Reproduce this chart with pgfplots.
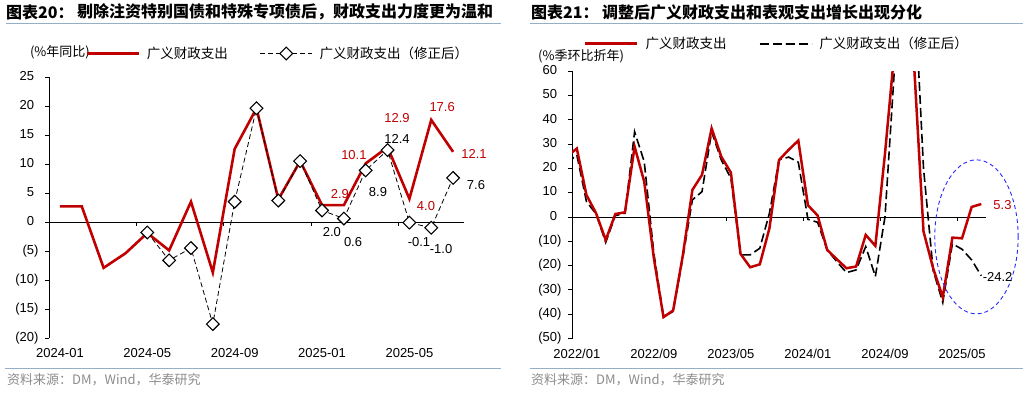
\documentclass[border=0pt]{standalone}
\usepackage{pgfplots}
\pgfplotsset{compat=1.18}
\usepackage{fontspec}
\setmainfont{Liberation Sans}
\newfontfamily\cjk{Noto Sans CJK SC}
\definecolor{myred}{RGB}{192,0,0}
\definecolor{rulec}{RGB}{150,175,200}
\definecolor{srcc}{RGB}{140,140,140}
\definecolor{ellc}{RGB}{40,40,255}

\pgfplotstableread{
i red
0 2.7
1 2.7
2 -7.9
3 -5.4
4 -1.9
5 -4.9
6 3.5
7 -8.7
8 12.6
9 19.6
10 3.9
11 10.5
12 2.9
13 2.9
14 10.1
15 12.9
16 4.0
17 17.6
18 12.1
}\lefred
\pgfplotstableread{
i adj
4 -1.8
5 -6.6
6 -4.5
7 -17.6
8 3.5
9 19.6
10 3.7
11 10.5
12 2.0
13 0.6
14 8.9
15 12.4
16 -0.1
17 -1.0
18 7.6
}\lefadj
\pgfplotstableread{
i red adj
-1 25.0 22.0
0 28.1 25.5
1 9.0 6.3
2 1.5 1.2
3 -9.5 -10.5
4 1.2 0.5
5 1.9 1.5
6 28.9 35.0
7 14.5 22.7
8 -17.0 -15.0
9 -41.2 -41.0
10 -38.5 -38.9
11 -16.0 -17.0
12 11.1 7.0
13 17.3 10.4
14 36.4 35.0
15 24.8 23.4
16 18.2 15.9
17 -15.2 -15.6
18 -20.7 -15.6
19 -19.5 -12.9
20 -4.7 1.5
21 23.4 23.5
22 27.6 24.6
23 31.4 22.5
24 4.8 -1.0
25 0.6 -2.2
26 -13.6 -13.6
27 -17.4 -18.4
28 -21.1 -22.9
29 -20.4 -21.8
30 -7.4 -12.2
31 -11.9 -24.5
32 26.0 0.0
33 69.0 62.0
34 120.0 130.0
35 64.0 100.0
36 -6.0 20.0
37 -21.1 -22.0
38 -33.0 -35.2
39 -8.5 -11.0
40 -8.8 -13.3
41 4.1 -17.7
42 5.3 -24.2
}\rightdata

\pgfplotsset{
  myaxis/.style={
    scale only axis, anchor=south west,
    axis x line*=bottom, axis y line*=left,
    x axis line style={draw=none},
    y axis line style={-, line width=0.8pt},
    xtick style={draw=none},
    ytick style={black, line width=0.8pt},
    tick align=outside, major tick length=4pt,
    every tick label/.append style={font=\fontsize{13}{15}\selectfont, text=black},
    xticklabel style={yshift=-3pt},
    yticklabel style={xshift=-3pt},
    /pgf/number format/assume math mode=true,
    clip mode=individual,
    legend style={draw=none, fill=none, font=\cjk\fontsize{13.5}{15}\selectfont, anchor=west, legend columns=2,
      inner sep=0pt,
      /tikz/every odd column/.append style={column sep=5pt},
      /tikz/every even column/.append style={column sep=30pt}},
    legend image code/.code={\draw[mark repeat=2,mark phase=2,##1] plot coordinates {(0pt,0pt) (26pt,0pt) (52pt,0pt)};},
  }
}

\begin{document}
\begin{tikzpicture}[x=1pt,y=1pt]
\useasboundingbox (0,0) rectangle (1030,392);
% titles
\node[anchor=west, inner sep=0pt, font=\cjk\bfseries\fontsize{16}{16}\selectfont] at (6,380) {图表20：};
\node[anchor=west, inner sep=0pt, font=\cjk\bfseries\fontsize{16}{16}\selectfont] at (77,380) {剔除注资特别国债和特殊专项债后，财政支出力度更为温和};
\node[anchor=west, inner sep=0pt, font=\cjk\bfseries\fontsize{16}{16}\selectfont] at (531,380) {图表21：};
\node[anchor=west, inner sep=0pt, font=\cjk\bfseries\fontsize{16}{16}\selectfont] at (602,380) {调整后广义财政支出和表观支出增长出现分化};
\draw[rulec, line width=1pt] (6,368) -- (501,368);
\draw[rulec, line width=1pt] (530,368) -- (1023,368);
\draw[rulec, line width=1pt] (5,24) -- (501,24);
\draw[rulec, line width=1pt] (530,24) -- (1023,24);
\node[anchor=west, inner sep=0pt, text=srcc, font=\cjk\fontsize{13}{13}\selectfont] at (7,12) {资料来源：DM，Wind，华泰研究};
\node[anchor=west, inner sep=0pt, text=srcc, font=\cjk\fontsize{13}{13}\selectfont] at (531,12) {资料来源：DM，Wind，华泰研究};
\node[anchor=east, inner sep=0pt, font=\cjk\fontsize{13}{13}\selectfont] at (90,340) {(\%年同比)};
\node[anchor=west, inner sep=0pt, font=\cjk\fontsize{13}{13}\selectfont] at (538,336) {(\%季环比折年)};

% ---------- left chart ----------
\begin{axis}[myaxis,
  at={(49pt,54pt)}, width=415pt, height=261pt,
  xmin=-0.5, xmax=18.5, ymin=-20, ymax=25,
  xtick={0,4,8,12,16}, xticklabels={2024-01,2024-05,2024-09,2025-01,2025-05},
  ytick={-20,-15,-10,-5,0,5,10,15,20,25},
  yticklabels={(20),(15),(10),(5),0\phantom{)},5\phantom{)},10\phantom{)},15\phantom{)},20\phantom{)},25\phantom{)}},
  legend style={at={(axis description cs:0.087,1.09)}},
]
\draw[line width=0.8pt] (axis cs:-0.5,0) -- (axis cs:18.5,0);
\draw[line width=0.8pt] (axis cs:3.5,0) -- ++(0pt,-4pt);
\draw[line width=0.8pt] (axis cs:7.5,0) -- ++(0pt,-4pt);
\draw[line width=0.8pt] (axis cs:11.5,0) -- ++(0pt,-4pt);
\draw[line width=0.8pt] (axis cs:15.5,0) -- ++(0pt,-4pt);
\addplot[myred, line width=2.6pt, no marks] table[x=i, y=red] {\lefred};
\addlegendentry{广义财政支出}
\addplot[black, line width=0.8pt, dash pattern=on 5pt off 3pt, mark=square*, mark size=4.5pt,
  mark options={solid, rotate=45, fill=white, draw=black, line width=1.1pt}] table[x=i, y=adj] {\lefadj};
\addlegendentry{广义财政支出（修正后）}
\begin{scope}[font=\fontsize{13}{15}\selectfont, inner sep=0pt]
\node[text=myred] at (axis cs:15.43,17.9) {12.9};
\node[text=myred] at (axis cs:17.5,19.8) {17.6};
\node[text=myred] at (axis cs:18.96,11.7) {12.1};
\node[text=myred] at (axis cs:13.46,11.55) {10.1};
\node[text=myred] at (axis cs:12.82,4.83) {2.9};
\node[text=myred] at (axis cs:16.76,2.76) {4.0};
\node at (axis cs:15.43,14.3) {12.4};
\node at (axis cs:14.56,5.17) {8.9};
\node at (axis cs:19.05,6.38) {7.6};
\node at (axis cs:12.45,-1.72) {2.0};
\node at (axis cs:13.42,-3.45) {0.6};
\node at (axis cs:16.44,-3.45) {-0.1};
\node at (axis cs:17.45,-4.66) {-1.0};
\end{scope}
\end{axis}

% ---------- right chart ----------
\begin{axis}[myaxis,
  at={(572pt,53.5pt)}, width=414.1pt, height=267.5pt,
  xmin=-0.5, xmax=42.5, ymin=-50, ymax=60,
  xtick={0,8,16,24,32,40}, xticklabels={2022/01,2022/09,2023/05,2024/01,2024/09,2025/05},
  ytick={-50,-40,-30,-20,-10,0,10,20,30,40,50,60},
  yticklabels={(50),(40),(30),(20),(10),0\phantom{)},10\phantom{)},20\phantom{)},30\phantom{)},40\phantom{)},50\phantom{)},60\phantom{)}},
  legend style={at={(axis description cs:0.029,1.102)}},
]
\draw[line width=0.8pt] (axis cs:-0.5,0) -- (axis cs:42.5,0);
\draw[line width=0.8pt] (axis cs:7.5,0) -- ++(0pt,-4pt);
\draw[line width=0.8pt] (axis cs:15.5,0) -- ++(0pt,-4pt);
\draw[line width=0.8pt] (axis cs:23.5,0) -- ++(0pt,-4pt);
\draw[line width=0.8pt] (axis cs:31.5,0) -- ++(0pt,-4pt);
\draw[line width=0.8pt] (axis cs:39.5,0) -- ++(0pt,-4pt);
\addplot[black, line width=1.6pt, dash pattern=on 9pt off 4pt, no marks, forget plot] table[x=i, y=adj] {\rightdata};
\addplot[myred, line width=2.5pt, no marks] table[x=i, y=red] {\rightdata};
\addlegendentry{广义财政支出}
\addlegendimage{black, line width=1.6pt, dash pattern=on 9pt off 4pt}
\addlegendentry{广义财政支出（修正后）}
\draw[ellc, line width=0.9pt, dash pattern=on 4pt off 3pt] (axis cs:41.5,-8.2) ellipse [x radius=41.7pt, y radius=77pt];
\node[text=myred, font=\fontsize{13}{15}\selectfont, inner sep=0pt] at (axis cs:44.2,4.9) {5.3};
\node[font=\fontsize{13}{15}\selectfont, inner sep=0pt] at (axis cs:43.7,-24.7) {-24.2};
\end{axis}
\end{tikzpicture}
\end{document}
